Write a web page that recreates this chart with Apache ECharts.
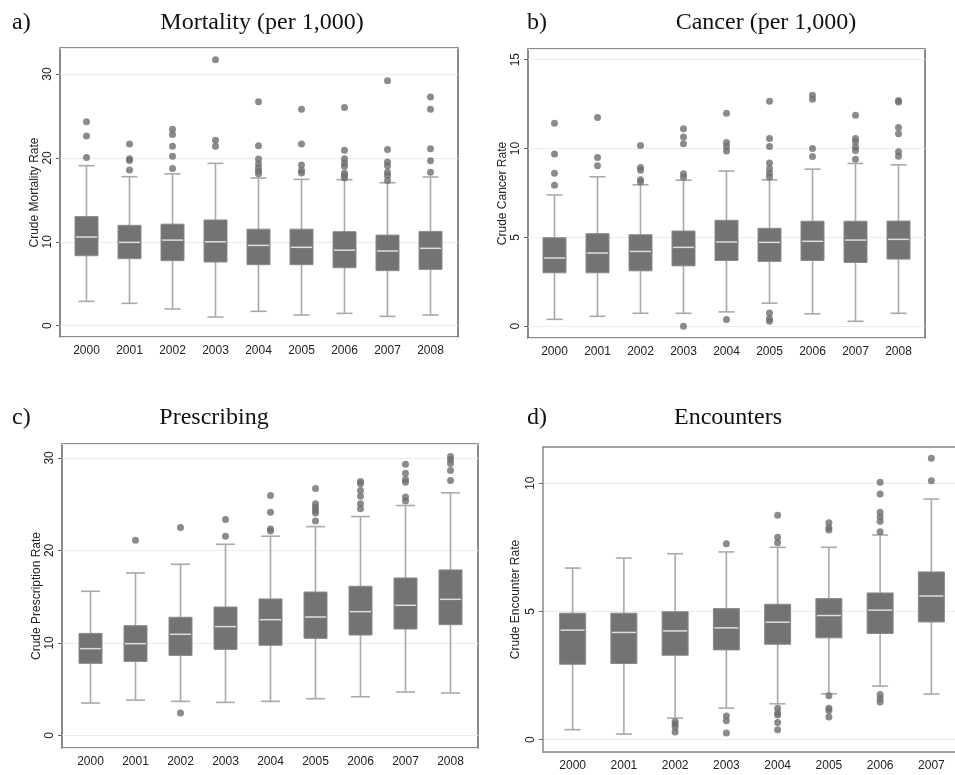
<!DOCTYPE html>
<html>
<head>
<meta charset="utf-8">
<script src="https://cdn.jsdelivr.net/npm/echarts@6/dist/echarts.min.js"></script>
<style>
  html, body { margin: 0; padding: 0; background: #fff; }
  #main { width: 955px; height: 775px; }
</style>
</head>
<body>
<div id="main"></div>
<script>
// year categories
const years9 = ['2000', '2001', '2002', '2003', '2004', '2005', '2006', '2007', '2008'];
const years8 = ['2000', '2001', '2002', '2003', '2004', '2005', '2006', '2007'];

// a) mortality: lower whisker, Q1, median, Q3, upper whisker
const mortLow = [2.9, 2.66, 1.99, 1.03, 1.71, 1.27, 1.47, 1.11, 1.27];
const mortQ1 = [8.34, 7.99, 7.75, 7.59, 7.27, 7.27, 6.91, 6.56, 6.71];
const mortMed = [10.57, 9.93, 10.2, 10.0, 9.57, 9.34, 9.0, 8.9, 9.22];
const mortQ3 = [13.0, 11.96, 12.1, 12.6, 11.5, 11.5, 11.2, 10.8, 11.24];
const mortHigh = [19.07, 17.76, 18.1, 19.35, 17.6, 17.44, 17.4, 17.04, 17.72];
const mortOut = [[0, 24.3], [0, 22.6], [0, 20.06], [1, 21.65], [1, 19.9], [1, 19.7], [1, 18.55],
	[2, 23.4], [2, 22.8], [2, 21.4], [2, 20.2], [2, 18.75], [3, 31.7], [3, 22.1], [3, 21.4],
	[4, 26.7], [4, 21.45], [4, 19.87], [4, 19.3], [4, 18.8], [4, 18.4], [4, 18.1],
	[5, 25.8], [5, 21.65], [5, 19.15], [5, 18.5], [5, 18.2],
	[6, 26.0], [6, 20.9], [6, 19.9], [6, 19.4], [6, 19.0], [6, 18.2], [6, 17.9], [6, 17.6],
	[7, 29.2], [7, 21.0], [7, 19.5], [7, 19.07], [7, 18.3], [7, 17.9], [7, 17.3],
	[8, 27.25], [8, 25.8], [8, 21.1], [8, 19.67], [8, 18.3]];

// b) cancer
const cancLow = [0.39, 0.56, 0.73, 0.73, 0.81, 1.3, 0.7, 0.28, 0.73];
const cancQ1 = [3.01, 3.01, 3.12, 3.4, 3.7, 3.65, 3.7, 3.59, 3.78];
const cancMed = [3.84, 4.12, 4.21, 4.44, 4.74, 4.72, 4.78, 4.85, 4.89];
const cancQ3 = [4.98, 5.21, 5.15, 5.36, 5.96, 5.51, 5.91, 5.91, 5.92];
const cancHigh = [7.39, 8.41, 7.96, 8.22, 8.73, 8.24, 8.84, 9.16, 9.08];
const cancOut = [[0, 11.42], [0, 9.69], [0, 8.61], [0, 7.94], [1, 11.74], [1, 9.5], [1, 9.03],
	[2, 10.17], [2, 8.93], [2, 8.78], [2, 8.24], [2, 8.12],
	[3, 11.12], [3, 10.65], [3, 10.27], [3, 8.58], [3, 8.39], [3, 0.0],
	[4, 11.98], [4, 10.34], [4, 10.12], [4, 9.86], [4, 0.38],
	[5, 12.66], [5, 10.57], [5, 10.12], [5, 9.18], [5, 8.86], [5, 8.61], [5, 8.4], [5, 0.75], [5, 0.43], [5, 0.28],
	[6, 13.0], [6, 12.77], [6, 10.0], [6, 9.55],
	[7, 11.87], [7, 10.57], [7, 10.38], [7, 10.08], [7, 9.89], [7, 9.4],
	[8, 12.7], [8, 12.62], [8, 11.19], [8, 10.83], [8, 9.82], [8, 9.57]];

// c) prescribing
const rxLow = [3.5, 3.82, 3.68, 3.57, 3.68, 3.97, 4.18, 4.69, 4.58];
const rxQ1 = [7.79, 8.0, 8.65, 9.3, 9.74, 10.49, 10.85, 11.5, 11.97];
const rxMed = [9.38, 9.92, 10.93, 11.76, 12.51, 12.8, 13.38, 14.06, 14.71];
const rxQ3 = [11.03, 11.86, 12.77, 13.88, 14.75, 15.5, 16.12, 17.02, 17.89];
const rxHigh = [15.58, 17.56, 18.5, 20.66, 21.53, 22.57, 23.66, 24.85, 26.22];
const rxOut = [[1, 21.1], [2, 22.47], [2, 2.42], [3, 23.33], [3, 21.53],
	[4, 25.93], [4, 24.13], [4, 22.32], [4, 22.1],
	[5, 26.69], [5, 25.03], [5, 24.7], [5, 24.34], [5, 24.05], [5, 23.19],
	[6, 27.44], [6, 27.19], [6, 26.47], [6, 25.86], [6, 25.03], [6, 24.49],
	[7, 29.32], [7, 28.34], [7, 27.66], [7, 27.37], [7, 25.78], [7, 25.35],
	[8, 30.15], [8, 29.82], [8, 29.39], [8, 28.63], [8, 27.55]];

// d) encounters
const encLow = [0.39, 0.22, 0.84, 1.23, 1.4, 1.79, 2.09, 1.78];
const encQ1 = [2.94, 2.97, 3.29, 3.5, 3.72, 3.97, 4.14, 4.59];
const encMed = [4.27, 4.18, 4.24, 4.36, 4.58, 4.84, 5.05, 5.6];
const encQ3 = [4.93, 4.93, 4.99, 5.11, 5.28, 5.5, 5.72, 6.54];
const encHigh = [6.69, 7.08, 7.25, 7.32, 7.5, 7.5, 7.98, 9.38];
const encOut = [[2, 0.70], [2, 0.61], [2, 0.49], [2, 0.30], [3, 7.64], [3, 0.92], [3, 0.74], [3, 0.26],
	[4, 8.75], [4, 7.89], [4, 7.68], [4, 1.23], [4, 1.04], [4, 0.96], [4, 0.67], [4, 0.39],
	[5, 8.46], [5, 8.26], [5, 8.17], [5, 1.71], [5, 1.23], [5, 1.14], [5, 0.88],
	[6, 10.04], [6, 9.58], [6, 8.87], [6, 8.69], [6, 8.52], [6, 8.11], [6, 1.76], [6, 1.62], [6, 1.47],
	[7, 10.97], [7, 10.09]];

const sans = '"Liberation Sans", Arial, sans-serif';
const serif = '"Liberation Serif", "Times New Roman", serif';

// panel layout: frame box + inner box where the categories sit
const panels = [
	{ tag: 'a)', title: 'Mortality (per 1,000)', tagX: 12, titleX: 262, titleY: 11,
		frame: [60, 48, 398, 289], inner: [65, 387], ymin: -1.35, ymax: 33.1, step: 10, nameGap: 18,
		yName: 'Crude Mortality Rate', cats: years9, boxW: 23, capW: 16, frameColor: '#666', openRight: false,
		low: mortLow, q1: mortQ1, med: mortMed, q3: mortQ3, high: mortHigh, out: mortOut },
	{ tag: 'b)', title: 'Cancer (per 1,000)', tagX: 527, titleX: 766, titleY: 11,
		frame: [528, 49, 397, 289], inner: [533, 387], ymin: -0.66, ymax: 15.6, step: 5, nameGap: 19,
		yName: 'Crude Cancer Rate', cats: years9, boxW: 23, capW: 16, frameColor: '#666', openRight: false,
		low: cancLow, q1: cancQ1, med: cancMed, q3: cancQ3, high: cancHigh, out: cancOut },
	{ tag: 'c)', title: 'Prescribing', tagX: 12, titleX: 214, titleY: 406,
		frame: [62, 444, 416, 304], inner: [68, 405], ymin: -1.36, ymax: 31.5, step: 10, nameGap: 18,
		yName: 'Crude Prescription Rate', cats: years9, boxW: 23, capW: 19, frameColor: '#666', openRight: false,
		low: rxLow, q1: rxQ1, med: rxMed, q3: rxQ3, high: rxHigh, out: rxOut },
	{ tag: 'd)', title: 'Encounters', tagX: 527, titleX: 728, titleY: 406,
		frame: [543, 447, 460, 305], inner: [547, 410], ymin: -0.48, ymax: 11.41, step: 5, nameGap: 21,
		yName: 'Crude Encounter Rate', cats: years8, boxW: 26, capW: 16, frameColor: '#888', openRight: true,
		low: encLow, q1: encQ1, med: encMed, q3: encQ3, high: encHigh, out: encOut }
];

function boxRenderer(boxW, capW){
	return function(params, api){
		var x = api.value(0);
		var lo = api.coord([x, api.value(1)]),
			q1 = api.coord([x, api.value(2)]),
			md = api.coord([x, api.value(3)]),
			q3 = api.coord([x, api.value(4)]),
			hi = api.coord([x, api.value(5)]);
		var cx = lo[0];
		var whisker = { stroke: '#a9a9a9', lineWidth: 1.6 };
		return {
			type: 'group',
			children: [
				{ type: 'line', shape: { x1: cx, y1: hi[1], x2: cx, y2: lo[1] }, style: whisker },
				{ type: 'line', shape: { x1: cx - capW / 2, y1: hi[1], x2: cx + capW / 2, y2: hi[1] }, style: whisker },
				{ type: 'line', shape: { x1: cx - capW / 2, y1: lo[1], x2: cx + capW / 2, y2: lo[1] }, style: whisker },
				{ type: 'rect', shape: { x: cx - boxW / 2, y: q3[1], width: boxW, height: q1[1] - q3[1] },
					style: { fill: '#737373', stroke: '#8a8a8a', lineWidth: 1 } },
				{ type: 'line', shape: { x1: cx - boxW / 2 + 1, y1: md[1], x2: cx + boxW / 2 - 1, y2: md[1] },
					style: { stroke: '#dedede', lineWidth: 1.5 } }
			]
		};
	};
}

var grid = [], xAxis = [], yAxis = [], series = [], title = [];

panels.forEach(function(p, i){
	var f = p.frame;
	var frameLine = { show: p.openRight, onZero: false, lineStyle: { color: p.frameColor, width: 1.5 } };
	// frame grid (border, y labels, gridlines); open frame is drawn with axis lines instead
	grid.push({ left: f[0], top: f[1], width: f[2], height: f[3], show: !p.openRight, outerBoundsMode: 'none',
		borderColor: p.frameColor, borderWidth: 1.5, backgroundColor: 'transparent' });
	// data grid (categories)
	grid.push({ left: p.inner[0], top: f[1], width: p.inner[1], height: f[3], outerBoundsMode: 'none' });

	xAxis.push({ gridIndex: 2 * i, type: 'value', min: 0, max: 1, position: 'bottom',
		axisLine: frameLine, axisTick: { show: false }, axisLabel: { show: false }, splitLine: { show: false } });
	xAxis.push({
		gridIndex: 2 * i + 1, type: 'category', data: p.cats,
		axisLine: { show: false, onZero: false }, axisTick: { show: false }, splitLine: { show: false },
		axisLabel: { color: '#222', fontFamily: sans, fontSize: 12, margin: 8 }
	});

	yAxis.push({
		gridIndex: 2 * i, type: 'value', min: p.ymin, max: p.ymax,
		minInterval: p.step, maxInterval: p.step,
		name: p.yName, nameLocation: 'middle', nameGap: p.nameGap,
		nameTextStyle: { color: '#222', fontFamily: sans, fontSize: 12 },
		axisLine: frameLine,
		axisTick: { show: true, length: 4, lineStyle: { color: '#666' } },
		axisLabel: {
			rotate: 90, margin: 6, color: '#222', fontFamily: sans, fontSize: 12,
			showMinLabel: false, showMaxLabel: false,
			formatter: function(v){ return (Math.abs(v % p.step) < 1e-6) ? String(v) : ''; }
		},
		splitLine: { show: true, lineStyle: { color: '#ececec', width: 1 } }
	});
	yAxis.push({ gridIndex: 2 * i + 1, type: 'value', min: p.ymin, max: p.ymax, show: false });

	var boxData = p.cats.map(function(c, k){
		return [k, p.low[k], p.q1[k], p.med[k], p.q3[k], p.high[k]];
	});

	series.push({
		type: 'custom', xAxisIndex: 2 * i + 1, yAxisIndex: 2 * i + 1,
		renderItem: boxRenderer(p.boxW, p.capW),
		encode: { x: 0, y: [1, 2, 3, 4, 5] },
		data: boxData, silent: true
	});
	series.push({
		type: 'scatter', xAxisIndex: 2 * i + 1, yAxisIndex: 2 * i + 1,
		symbolSize: 7, itemStyle: { color: '#6e6e6e' },
		data: p.out, silent: true, z: 3
	});

	title.push({ text: p.tag, left: p.tagX, top: p.titleY, padding: 0,
		textStyle: { fontFamily: serif, fontSize: 24, fontWeight: 'normal', color: '#111' } });
	title.push({ text: p.title, left: p.titleX, top: p.titleY, textAlign: 'center', padding: 0,
		textStyle: { fontFamily: serif, fontSize: 24, fontWeight: 'normal', color: '#111' } });
});

// top edge for the open (right-cut) frame of panel d
panels.forEach(function(p, i){
	if (!p.openRight) return;
	xAxis.push({ gridIndex: 2 * i, type: 'value', min: 0, max: 1, position: 'top',
		axisLine: { show: true, onZero: false, lineStyle: { color: p.frameColor, width: 1.5 } },
		axisTick: { show: false }, axisLabel: { show: false }, splitLine: { show: false } });
});

var myChart = echarts.init(document.getElementById('main'), null, { renderer: 'canvas' });
myChart.setOption({
	animation: false,
	backgroundColor: '#fff',
	title: title,
	grid: grid,
	xAxis: xAxis,
	yAxis: yAxis,
	series: series
});
</script>
</body>
</html>
